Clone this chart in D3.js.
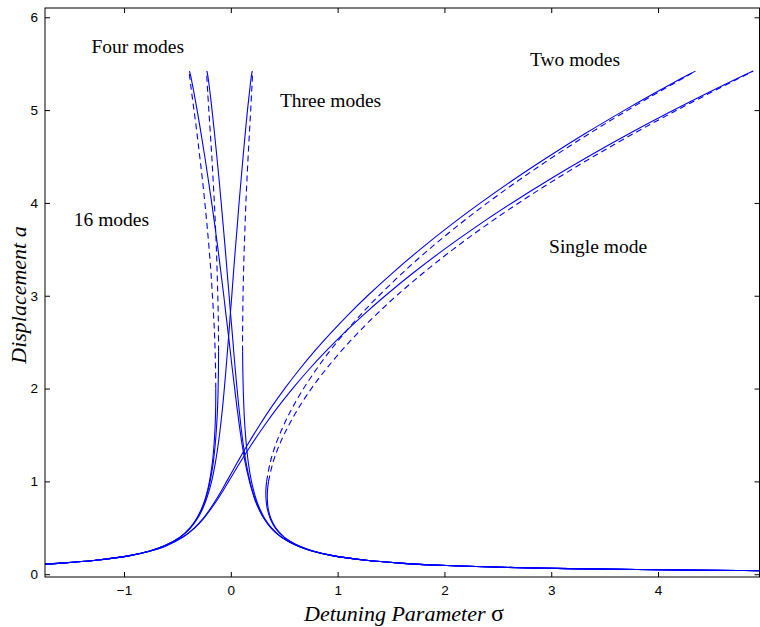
<!DOCTYPE html>
<html>
<head>
<meta charset="utf-8">
<script src="https://cdn.jsdelivr.net/npm/d3@7"></script>
<style>
  html, body { margin: 0; padding: 0; background: #fff; }
  svg { display: block; }
</style>
</head>
<body>
<svg id="chart" width="760" height="627"></svg>
<script>
// ---------- data ----------
// amplitude grid a shared by all branches
const aGrid = [0.038,0.04,0.05,0.06,0.07,0.08,0.1,0.12,0.15,0.2,0.25,0.3,0.4,0.5,0.6,0.7,0.8,0.9,1.0,
  1.2,1.4,1.6,1.8,2.0,2.2,2.4,2.6,2.8,3.0,3.25,3.5,3.75,4.0,4.25,4.5,4.75,5.0,5.2,5.3,5.38,5.42];

// detuning sigma of each branch at the amplitudes above
const singleLeft = [-5.0,-4.75,-3.8,-3.166,-2.714,-2.374,-1.898,-1.581,-1.263,-0.943,-0.750,-0.618,-0.447,-0.337,-0.255,-0.188,-0.128,-0.073,-0.020,
  0.085,0.195,0.313,0.440,0.578,0.727,0.888,1.061,1.247,1.446,1.712,1.998,2.305,2.632,2.980,3.348,3.737,4.148,4.492,4.670,4.815,4.891];
const singleRight = [5.0,4.75,3.8,3.167,2.715,2.376,1.902,1.585,1.270,0.956,0.770,0.647,0.500,0.420,0.375,0.351,0.342,0.343,0.353,
  0.394,0.457,0.540,0.639,0.754,0.885,1.030,1.190,1.364,1.551,1.806,2.081,2.378,2.696,3.035,3.395,3.776,4.177,4.513,4.685,4.824,4.891];

const twoLeft = [-5.0,-4.75,-3.8,-3.166,-2.714,-2.374,-1.899,-1.581,-1.263,-0.944,-0.751,-0.620,-0.450,-0.341,-0.261,-0.197,-0.140,-0.088,-0.039,
  0.059,0.159,0.266,0.380,0.504,0.638,0.782,0.937,1.103,1.280,1.518,1.773,2.046,2.338,2.647,2.976,3.322,3.688,3.994,4.153,4.282,4.351];
const twoRight = [5.0,4.75,3.8,3.167,2.715,2.376,1.901,1.585,1.270,0.955,0.768,0.646,0.497,0.415,0.368,0.342,0.330,0.328,0.335,
  0.368,0.421,0.493,0.579,0.681,0.796,0.924,1.065,1.219,1.386,1.611,1.856,2.119,2.402,2.703,3.023,3.361,3.717,4.015,4.168,4.291,4.351];

const threeLeft = [-5.0,-4.75,-3.8,-3.167,-2.714,-2.375,-1.900,-1.583,-1.266,-0.949,-0.759,-0.632,-0.473,-0.377,-0.312,-0.266,-0.231,-0.203,-0.180,
  -0.145,-0.118,-0.096,-0.077,-0.061,-0.046,-0.032,-0.018,-0.005,0.009,0.025,0.042,0.060,0.077,0.096,0.115,0.135,0.156,0.175,0.185,0.194,0.201];
const threeRight = [5.0,4.75,3.8,3.167,2.714,2.375,1.900,1.583,1.266,0.950,0.760,0.633,0.475,0.380,0.317,0.273,0.239,0.214,0.193,
  0.164,0.145,0.131,0.122,0.116,0.112,0.110,0.110,0.112,0.114,0.119,0.125,0.133,0.141,0.151,0.162,0.174,0.186,0.195,0.200,0.202,0.201];

const fourLeft = [-5.0,-4.75,-3.8,-3.167,-2.714,-2.375,-1.900,-1.583,-1.267,-0.950,-0.760,-0.634,-0.476,-0.382,-0.320,-0.276,-0.243,-0.219,-0.200,
  -0.173,-0.157,-0.147,-0.142,-0.141,-0.143,-0.147,-0.153,-0.162,-0.172,-0.186,-0.203,-0.222,-0.243,-0.266,-0.291,-0.317,-0.345,-0.368,-0.379,-0.387,-0.388];
const fourRight = [5.0,4.75,3.8,3.167,2.714,2.375,1.900,1.583,1.266,0.949,0.758,0.631,0.472,0.375,0.310,0.263,0.226,0.198,0.174,
  0.135,0.105,0.080,0.057,0.036,0.015,-0.005,-0.025,-0.046,-0.066,-0.093,-0.120,-0.149,-0.179,-0.211,-0.244,-0.279,-0.316,-0.347,-0.364,-0.378,-0.388];

const sixteenLeft = [-5.0,-4.75,-3.8,-3.167,-2.714,-2.375,-1.900,-1.583,-1.267,-0.950,-0.760,-0.633,-0.475,-0.380,-0.318,-0.273,-0.240,-0.214,-0.194,
  -0.165,-0.146,-0.133,-0.124,-0.119,-0.116,-0.115,-0.116,-0.118,-0.122,-0.128,-0.135,-0.144,-0.154,-0.166,-0.178,-0.192,-0.206,-0.217,-0.222,-0.225,-0.224];
const sixteenRight = [5.0,4.75,3.8,3.167,2.714,2.375,1.900,1.583,1.266,0.949,0.759,0.632,0.473,0.377,0.312,0.266,0.230,0.202,0.179,
  0.143,0.116,0.094,0.075,0.058,0.042,0.027,0.013,-0.002,-0.016,-0.034,-0.052,-0.071,-0.090,-0.110,-0.131,-0.153,-0.176,-0.196,-0.207,-0.217,-0.224];

// amplitude where each branch switches between stable (solid) and unstable (dashed)
const switchAmp = { single: 1.0, two: 1.0, three: 2.4, four: 2.0, sixteen: 2.4 };

const xTicks = [-1, 0, 1, 2, 3, 4];
const yTicks = [0, 1, 2, 3, 4, 5, 6];

const annotations = [
  { text: "Four modes",  s: -1.305, a: 5.615 },
  { text: "Three modes", s: 0.46,   a: 5.034 },
  { text: "Two modes",   s: 2.80,   a: 5.475 },
  { text: "16 modes",    s: -1.47,  a: 3.75 },
  { text: "Single mode", s: 2.98,   a: 3.46 }
];

// ---------- chart ----------
const svg = d3.select("#chart");
const L = 45, R = 759.5, T = 8, B = 577;
const x = d3.scaleLinear().domain([-1.74, 4.95]).range([L, R]);
const y = d3.scaleLinear().domain([-0.03, 6.1]).range([B, T]);

svg.append("defs").append("clipPath").attr("id", "clip")
  .append("rect").attr("x", L).attr("y", T).attr("width", R - L).attr("height", B - T);

const line = d3.line().x(d => x(d[0])).y(d => y(d[1])).curve(d3.curveCatmullRom.alpha(0.5));
const pts = arr => arr.map((s, i) => [s, aGrid[i]]);
const idx = a => aGrid.indexOf(a);

// segments: [points, dashed?]
const segs = [];
function hardening(left, right, sw) {
  const k = idx(sw), p = pts(right);
  segs.push([pts(left), false]);
  segs.push([p.slice(0, k + 1), false]);
  segs.push([p.slice(k), true]);
}
function softening(left, right, sw) {
  const k = idx(sw), p = pts(left);
  segs.push([p.slice(0, k + 1), false]);
  segs.push([p.slice(k), true]);
  segs.push([pts(right), false]);
}
hardening(singleLeft, singleRight, switchAmp.single);
hardening(twoLeft, twoRight, switchAmp.two);
hardening(threeLeft, threeRight, switchAmp.three);
softening(fourLeft, fourRight, switchAmp.four);
softening(sixteenLeft, sixteenRight, switchAmp.sixteen);

const g = svg.append("g").attr("clip-path", "url(#clip)");
g.selectAll("path.curve").data(segs).join("path")
  .attr("class", "curve")
  .attr("d", d => line(d[0]))
  .attr("fill", "none")
  .attr("stroke", "#0000ff")
  .attr("stroke-width", 1.1)
  .attr("stroke-dasharray", d => d[1] ? "6,4" : null);

// axes
const tickFont = "'Liberation Sans', Arial, Helvetica, sans-serif";
const xAxis = svg.append("g").attr("transform", `translate(0,${B})`)
  .call(d3.axisBottom(x).tickValues(xTicks).tickSize(-5).tickPadding(8).tickFormat(d3.format("d")));
const yAxis = svg.append("g").attr("transform", `translate(${L},0)`)
  .call(d3.axisLeft(y).tickValues(yTicks).tickSize(-5).tickPadding(7).tickFormat(d3.format("d")));
const xTop = svg.append("g").attr("transform", `translate(0,${T})`)
  .call(d3.axisTop(x).tickValues(xTicks).tickSize(-5).tickFormat(""));
const yRight = svg.append("g").attr("transform", `translate(${R},0)`)
  .call(d3.axisRight(y).tickValues(yTicks).tickSize(-5).tickFormat(""));
[xAxis, yAxis, xTop, yRight].forEach(ax => {
  ax.select(".domain").remove();
  ax.selectAll("line").attr("stroke", "#000");
  ax.selectAll("text").attr("font-family", tickFont).attr("font-size", 13.5).attr("fill", "#000");
});

svg.append("rect").attr("x", L).attr("y", T).attr("width", R - L).attr("height", B - T)
  .attr("fill", "none").attr("stroke", "#000").attr("stroke-width", 1);

// annotations
const serif = "'Liberation Serif', 'Times New Roman', Times, serif";
svg.selectAll("text.ann").data(annotations).join("text")
  .attr("class", "ann")
  .attr("x", d => x(d.s)).attr("y", d => y(d.a))
  .attr("font-family", serif).attr("font-size", 19.5).attr("fill", "#000")
  .text(d => d.text);

// axis titles
const xl = svg.append("text").attr("x", 404).attr("y", 621).attr("text-anchor", "middle")
  .attr("font-family", serif).attr("font-size", 22).attr("font-style", "italic");
xl.append("tspan").text("Detuning Parameter ");
xl.append("tspan").attr("font-style", "normal").attr("font-size", 24).text("σ");

svg.append("text").attr("transform", "translate(26,295) rotate(-90)").attr("text-anchor", "middle")
  .attr("font-family", serif).attr("font-size", 22).attr("font-style", "italic")
  .text("Displacement a");
</script>
</body>
</html>
